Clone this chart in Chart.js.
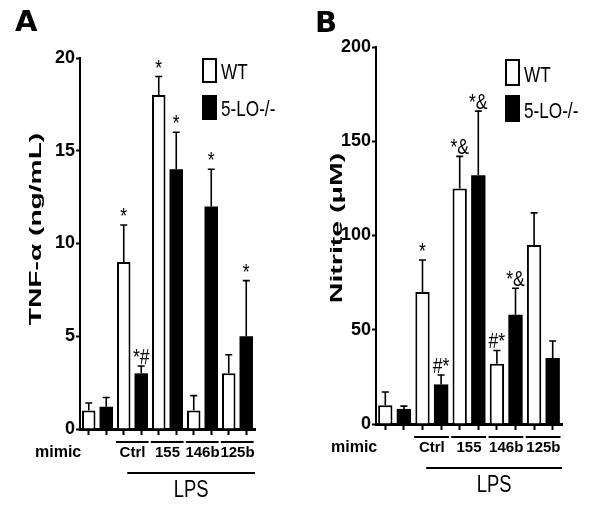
<!DOCTYPE html>
<html>
<head>
<meta charset="utf-8">
<script src="https://cdn.jsdelivr.net/npm/chart.js@4.4.0/dist/chart.umd.min.js"></script>
<style>
  html, body { margin: 0; padding: 0; background: #fff; }
  #wrap { position: relative; width: 601px; height: 532px; overflow: hidden; }
  #cA { position: absolute; left: 0; top: 0; }
  #cB { position: absolute; left: 300px; top: 0; }
</style>
</head>
<body>
<div id="wrap">
  <canvas id="cA" width="300" height="532"></canvas>
  <canvas id="cB" width="301" height="532"></canvas>
</div>
<script>
// ---------- data ----------
const groups = ['', 'Ctrl', '155', '146b', '125b'];
const seriesNames = ['WT', '5-LO-/-'];
const treatmentLabel = 'LPS';
const rowLabel = 'mimic';

// Panel A: TNF-alpha (ng/mL)
const tnfWT     = [1, 9, 18, 1, 3];
const tnfWTerr  = [0.4, 2, 1, 0.8, 1];
const tnfKO     = [1.2, 3, 14, 12, 5];
const tnfKOerr  = [0.5, 0.4, 2, 2, 3];
const tnfWTsig  = ['', '*', '*', '', ''];
const tnfKOsig  = ['', '*#', '*', '*', '*'];
const tnfTicks  = [0, 5, 10, 15, 20];

// Panel B: Nitrite (uM)
const nitWT     = [10, 70, 125, 32, 95];
const nitWTerr  = [7, 17, 17, 7, 17];
const nitKO     = [8, 21, 132, 58, 35];
const nitKOerr  = [1.5, 5, 34, 14, 9];
const nitWTsig  = ['', '*', '*&', '#*', ''];
const nitKOsig  = ['', '#*', '*&', '*&', ''];
const nitTicks  = [0, 50, 100, 150, 200];

// ---------- layout (canvas-relative) ----------
const layoutA = { w: 300, left: 80, right: 255, top: 58, bottom: 429,
  letter: 'A', letterX: 15, letterY: 31,
  title: 'TNF-\u03b1 (ng/mL)', titleX: 41, titleY: 229, stretch: 1.76,
  legX: 202, legY: [58, 95], legW: 15, legH: 25 };
const layoutB = { w: 301, left: 76, right: 262, top: 47, bottom: 424,
  letter: 'B', letterX: 15, letterY: 32,
  title: 'Nitrite (\u03bcM)', titleX: 42, titleY: 228, stretch: 1.78,
  legX: 205, legY: [59, 95], legW: 15, legH: 27 };

Chart.defaults.font.family = '"Liberation Sans", Arial, sans-serif';
Chart.defaults.color = '#000';

// draw horizontally condensed text (emulates a narrow face)
function narrowText(ctx, text, x, y, align, sx) {
  ctx.save();
  ctx.translate(x, y);
  ctx.scale(sx, 1);
  ctx.textAlign = align;
  ctx.textBaseline = 'alphabetic';
  ctx.fillText(text, 0, 0);
  ctx.restore();
}

const errPlugin = {
  id: 'errbars',
  afterDatasetsDraw(chart) {
    const ctx = chart.ctx, y = chart.scales.y;
    ctx.save();
    ctx.strokeStyle = '#000';
    ctx.fillStyle = '#000';
    ctx.lineWidth = 1.6;
    ctx.font = '22px "Liberation Sans", Arial, sans-serif';
    chart.data.datasets.forEach((ds, di) => {
      const meta = chart.getDatasetMeta(di);
      meta.data.forEach((el, i) => {
        const v = ds.data[i];
        if (v === null || v === undefined) return;
        const top = y.getPixelForValue(v + ds.errors[i]);
        ctx.beginPath();
        ctx.moveTo(el.x, el.y);
        ctx.lineTo(el.x, top);
        ctx.moveTo(el.x - 3.5, top);
        ctx.lineTo(el.x + 3.5, top);
        ctx.stroke();
        if (ds.sig[i]) narrowText(ctx, ds.sig[i], el.x, top - 2, 'center', 0.8);
      });
    });
    ctx.restore();
  }
};

const decorPlugin = {
  id: 'decor',
  afterDraw(chart, args, o) {
    const ctx = chart.ctx, x = chart.scales.x, ca = chart.chartArea;
    const L = o.L;
    ctx.save();
    ctx.fillStyle = '#000';
    ctx.strokeStyle = '#000';
    // panel letter
    ctx.font = 'bold 29px "DejaVu Sans", sans-serif';
    ctx.textAlign = 'left';
    ctx.textBaseline = 'alphabetic';
    ctx.fillText(L.letter, L.letterX, L.letterY);
    // y title (stretched along its length)
    ctx.save();
    ctx.translate(L.titleX, L.titleY);
    ctx.rotate(-Math.PI / 2);
    ctx.scale(L.stretch, 1);
    ctx.font = 'bold 16px "Liberation Sans", Arial, sans-serif';
    ctx.textAlign = 'center';
    ctx.textBaseline = 'alphabetic';
    ctx.fillText(L.title, 0, 0);
    ctx.restore();
    // legend
    const dsets = chart.data.datasets;
    ctx.font = '22px "Liberation Sans", Arial, sans-serif';
    dsets.forEach((ds, i) => {
      const by = L.legY[i];
      ctx.fillStyle = ds.backgroundColor;
      ctx.fillRect(L.legX, by, L.legW, L.legH);
      ctx.lineWidth = 2;
      ctx.strokeStyle = '#000';
      ctx.strokeRect(L.legX + 1, by + 1, L.legW - 2, L.legH - 2);
      ctx.fillStyle = '#000';
      narrowText(ctx, ds.label, L.legX + L.legW + 4, by + L.legH - 4, 'left', 0.78);
    });
    // group underlines and labels
    const cw = (ca.right - ca.left) / x.getLabels().length;
    ctx.lineWidth = 2;
    ctx.font = 'bold 15px "Liberation Sans", Arial, sans-serif';
    ctx.textAlign = 'center';
    o.groups.forEach((g, gi) => {
      if (!g) return;
      const x1 = x.getPixelForValue(gi * 2), x2 = x.getPixelForValue(gi * 2 + 1);
      ctx.beginPath();
      ctx.moveTo(x1 - 0.45 * cw, ca.bottom + 13);
      ctx.lineTo(x2 + 0.42 * cw, ca.bottom + 13);
      ctx.stroke();
      ctx.fillText(g, (x1 + x2) / 2, ca.bottom + 28);
    });
    ctx.font = 'bold 16px "Liberation Sans", Arial, sans-serif';
    ctx.textAlign = 'left';
    ctx.fillText(rowLabel, ca.left - 45, ca.bottom + 28);
    // treatment line + label
    const firstTreated = o.groups.findIndex(g => g);
    const lx1 = x.getPixelForValue(firstTreated * 2) + 0.2 * cw;
    ctx.beginPath();
    ctx.moveTo(lx1, ca.bottom + 44);
    ctx.lineTo(ca.right, ca.bottom + 44);
    ctx.stroke();
    ctx.font = '23px "Liberation Sans", Arial, sans-serif';
    narrowText(ctx, treatmentLabel, (lx1 + ca.right) / 2, ca.bottom + 68, 'center', 0.8);
    ctx.restore();
  }
};

function makePanel(canvasId, L, wt, wtErr, wtSig, ko, koErr, koSig, ticks) {
  const labels = groups.flatMap(g => [g + ' ' + seriesNames[0], g + ' ' + seriesNames[1]]);
  const wtData = groups.flatMap((g, i) => [wt[i], null]);
  const koData = groups.flatMap((g, i) => [null, ko[i]]);
  const wtE = groups.flatMap((g, i) => [wtErr[i], null]);
  const koE = groups.flatMap((g, i) => [null, koErr[i]]);
  const wtS = groups.flatMap((g, i) => [wtSig[i], '']);
  const koS = groups.flatMap((g, i) => ['', koSig[i]]);
  return new Chart(document.getElementById(canvasId), {
    type: 'bar',
    data: {
      labels,
      datasets: [
        { label: seriesNames[0], data: wtData, errors: wtE, sig: wtS,
          backgroundColor: '#ffffff', borderColor: '#000', borderWidth: 2 },
        { label: seriesNames[1], data: koData, errors: koE, sig: koS,
          backgroundColor: '#000000', borderColor: '#000', borderWidth: 0 }
      ]
    },
    options: {
      responsive: false,
      animation: false,
      devicePixelRatio: 1,
      layout: { padding: { left: 0, top: L.top, right: L.w - L.right, bottom: 0 } },
      datasets: { bar: { grouped: false, barPercentage: 0.77, categoryPercentage: 1 } },
      plugins: {
        legend: { display: false },
        tooltip: { enabled: false },
        decor: { L, groups }
      },
      scales: {
        x: {
          type: 'category',
          offset: true,
          ticks: { display: false },
          grid: { offset: false, drawOnChartArea: false, drawTicks: true, tickLength: 6, tickWidth: 2, color: '#000' },
          border: { display: true, color: '#000', width: 3 },
          afterFit: s => { s.height = 532 - L.bottom; }
        },
        y: {
          min: ticks[0],
          max: ticks[ticks.length - 1],
          afterBuildTicks: s => { s.ticks = ticks.map(v => ({ value: v })); },
          ticks: { padding: 1, color: '#000',
            font: { family: '"Liberation Sans", Arial, sans-serif', size: 18, weight: 'bold' } },
          grid: { drawOnChartArea: false, drawTicks: true, tickLength: 4, tickWidth: 2, color: '#000' },
          border: { display: true, color: '#000', width: 2 },
          afterFit: s => { s.width = L.left; }
        }
      }
    },
    plugins: [errPlugin, decorPlugin]
  });
}

makePanel('cA', layoutA, tnfWT, tnfWTerr, tnfWTsig, tnfKO, tnfKOerr, tnfKOsig, tnfTicks);
makePanel('cB', layoutB, nitWT, nitWTerr, nitWTsig, nitKO, nitKOerr, nitKOsig, nitTicks);
</script>
</body>
</html>
